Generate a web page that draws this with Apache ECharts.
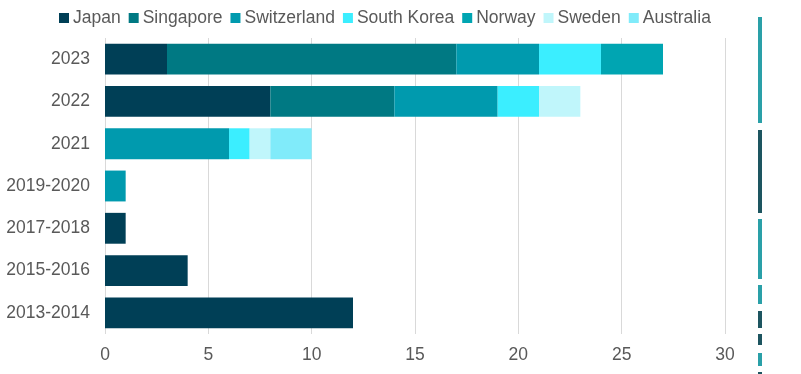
<!DOCTYPE html>
<html><head><meta charset="utf-8">
<script src="https://cdn.jsdelivr.net/npm/echarts@6/dist/echarts.min.js"></script>
<style>html,body{margin:0;padding:0;background:#fff}#c{width:801px;height:374px}</style>
</head><body><div id="c"></div>
<script>
const categories = ['2013-2014','2015-2016','2017-2018','2019-2020','2021','2022','2023'];
const japan       = [12, 4, 1, 0, 0, 8, 3];
const singapore   = [0, 0, 0, 0, 0, 6, 14];
const switzerland = [0, 0, 0, 1, 6, 5, 4];
const southKorea  = [0, 0, 0, 0, 1, 2, 3];
const norway      = [0, 0, 0, 0, 0, 0, 3];
const sweden      = [0, 0, 0, 0, 1, 2, 0];
const australia   = [0, 0, 0, 0, 2, 0, 0];
const xTicks = [0, 5, 10, 15, 20, 25, 30];

const seriesDefs = [
  ['Japan', japan, '#003f56'],
  ['Singapore', singapore, '#007983'],
  ['Switzerland', switzerland, '#009aae'],
  ['South Korea', southKorea, '#3beeff'],
  ['Norway', norway, '#00a5b2'],
  ['Sweden', sweden, '#c0f6fb'],
  ['Australia', australia, '#80ebfa']
];

const chart = echarts.init(document.getElementById('c'), null, {renderer:'canvas'});
const strip = [
  [17,123,'#2aa0a8'],[130,213,'#1d5560'],[219,279,'#2aa0a8'],[285,304,'#2aa0a8'],
  [311,328,'#1d5560'],[334,345,'#1d5560'],[353,366,'#2aa0a8'],[372,374,'#1d5560']
];
chart.setOption({
  animation:false,
  textStyle:{fontFamily:"'Liberation Sans', Arial, sans-serif"},
  legend:{
    top:4, left:54, itemWidth:10, itemHeight:10, itemGap:8,
    icon:'rect',
    textStyle:{fontSize:17.5, color:'#595959', fontFamily:"'Liberation Sans', Arial, sans-serif", padding:[0,0,0,-1]},
    data: seriesDefs.map(s=>s[0])
  },
  grid:{left:105, right:76, top:38, bottom:40, containLabel:false},
  xAxis:{
    type:'value', min:0, max:30, interval:5,
    axisLine:{show:false}, axisTick:{show:false},
    axisLabel:{fontSize:17.5, color:'#595959', margin:12, fontFamily:"'Liberation Sans', Arial, sans-serif"},
    splitLine:{lineStyle:{color:'#d9d9d9', width:1}}
  },
  yAxis:{
    type:'category', data:categories,
    axisLine:{show:false}, axisTick:{show:false},
    axisLabel:{fontSize:17.5, color:'#595959', margin:15, fontFamily:"'Liberation Sans', Arial, sans-serif"}
  },
  graphic: strip.map(s=>({type:'rect', shape:{x:758,y:s[0],width:4,height:s[1]-s[0]}, style:{fill:s[2]}})),
  series: seriesDefs.map(s=>({
    name:s[0], type:'bar', stack:'total', data:s[1],
    barCategoryGap:'27%',
    itemStyle:{color:s[2]}
  }))
});
</script></body></html>
